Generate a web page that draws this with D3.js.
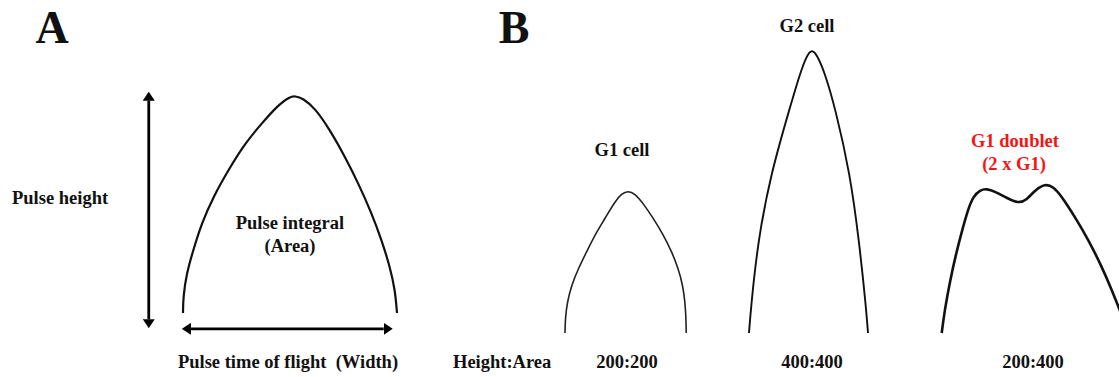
<!DOCTYPE html>
<html>
<head>
<meta charset="utf-8">
<script src="https://cdn.jsdelivr.net/npm/d3@7"></script>
<style>
  body { margin: 0; background: #fff; }
  svg text { font-family: "Liberation Serif", "Times New Roman", serif; font-weight: bold; fill: #111; white-space: pre; }
</style>
</head>
<body>
<div id="chart"></div>
<script>
// Panel A: generic pulse (time units 0-100, height 0-100)
var pulseATime   = [0, 0.1, 1.7, 4.8, 8.7, 14.2, 21.2, 29, 36.8, 44.5, 50, 52.3, 56, 61.7, 68.7, 75.7, 81.9, 88.2, 92.8, 96.7, 99.1, 100];
var pulseAHeight = [0, 7.5, 18.3, 29, 41.3, 53.6, 65.9, 78.2, 87.4, 95.9, 99.7, 100, 99, 94.4, 84.3, 72, 59.8, 45.9, 33.6, 21.3, 10.6, 0];

// Panel B: three pulses on a shared time axis, height in signal units
var g1Time   = [25, 25.3, 27.3, 31.7, 38.3, 46.7, 55, 65, 75, 81.7, 88, 95, 103.3, 113.3, 123.3, 131.7, 138.3, 142.7, 145, 146, 146.2];
var g1Height = [0, 21, 44, 68, 91, 115, 139, 162, 186, 197, 201, 197, 183, 162, 139, 115, 91, 68, 44, 21, 0];

var g2Time   = [209, 211, 218, 231, 250, 260, 267, 272, 277, 285, 295, 310, 319, 326, 328];
var g2Height = [0, 37, 131, 226, 319, 367, 393, 401, 393, 367, 319, 226, 131, 37, 0];

var dbTime   = [401.7, 405, 410, 415.7, 421.7, 428.3, 433.3, 440, 446.7, 455, 466.7, 478.3, 486.7, 495, 505, 513.3, 521.7, 535, 548.3, 561.7, 571.7, 579, 589];
var dbHeight = [0, 35, 73, 110, 143, 176, 193, 202, 204, 200, 191, 183, 188, 202, 211, 207, 193, 164, 132, 94, 61, 35, 0];

var pulseNames  = ["G1 cell", "G2 cell", "G1 doublet"];
var ratioLabels = ["200:200", "400:400", "200:400"];

var svgWidth = 1119;
var svgHeight = 377;

var svg = d3.select("#chart")
  .append("svg")
  .attr("width", svgWidth)
  .attr("height", svgHeight);

// arrow heads
var defs = svg.append("defs");
defs.append("marker")
  .attr("id", "head")
  .attr("viewBox", "0 0 10 10")
  .attr("refX", 0)
  .attr("refY", 5)
  .attr("markerUnits", "userSpaceOnUse")
  .attr("markerWidth", 9)
  .attr("markerHeight", 12)
  .attr("preserveAspectRatio", "none")
  .attr("orient", "auto-start-reverse")
  .append("path")
  .attr("d", "M0,0 L10,5 L0,10 z")
  .attr("fill", "#000");

// scales
var xA = d3.scaleLinear().domain([0, 100]).range([183, 397]);
var yA = d3.scaleLinear().domain([0, 100]).range([313, 96]);

var xB = d3.scaleLinear().domain([0, 580]).range([540, 1120]);
var yB = d3.scaleLinear().domain([0, 400]).range([333, 50]);

function zip(t, h) {
  return t.map((d, i) => ({ t: d, h: h[i] }));
}

var lineA = d3.line()
  .x(d => xA(d.t))
  .y(d => yA(d.h))
  .curve(d3.curveBasis);

var lineB = d3.line()
  .x(d => xB(d.t))
  .y(d => yB(d.h))
  .curve(d3.curveBasis);

// Panel A
svg.append("path")
  .datum(zip(pulseATime, pulseAHeight))
  .attr("d", lineA)
  .attr("fill", "none")
  .attr("stroke", "#111")
  .attr("stroke-width", 2.2);

// height arrow
svg.append("line")
  .attr("x1", xA(-16)).attr("x2", xA(-16))
  .attr("y1", yA(102) + 9).attr("y2", yA(-7) - 9)
  .attr("stroke", "#000")
  .attr("stroke-width", 2.8)
  .attr("marker-start", "url(#head)")
  .attr("marker-end", "url(#head)");

// width arrow
svg.append("line")
  .attr("x1", xA(-0.5) + 9).attr("x2", xA(98) - 9)
  .attr("y1", yA(-7.3)).attr("y2", yA(-7.3))
  .attr("stroke", "#000")
  .attr("stroke-width", 2.8)
  .attr("marker-start", "url(#head)")
  .attr("marker-end", "url(#head)");

// Panel B pulses
var pulses = [
  { pts: zip(g1Time, g1Height), w: 1.6, c: "#222" },
  { pts: zip(g2Time, g2Height), w: 1.9, c: "#111" },
  { pts: zip(dbTime, dbHeight), w: 2.6, c: "#111" }
];

svg.append("g")
  .selectAll("path")
  .data(pulses)
  .enter()
  .append("path")
  .attr("d", d => lineB(d.pts))
  .attr("fill", "none")
  .attr("stroke", d => d.c)
  .attr("stroke-width", d => d.w);

// panel letters
svg.append("text").attr("x", 52).attr("y", 43)
  .attr("text-anchor", "middle").attr("font-size", "46px").text("A");
svg.append("text").attr("x", 514).attr("y", 43)
  .attr("text-anchor", "middle").attr("font-size", "46px").text("B");

// Panel A labels
svg.append("text").attr("x", 12).attr("y", 204)
  .attr("font-size", "18.5px").text("Pulse height");
svg.append("text").attr("x", 290).attr("y", 229)
  .attr("text-anchor", "middle").attr("font-size", "18.5px").text("Pulse integral");
svg.append("text").attr("x", 290).attr("y", 252)
  .attr("text-anchor", "middle").attr("font-size", "18.5px").text("(Area)");
svg.append("text").attr("x", 288).attr("y", 368)
  .attr("text-anchor", "middle").attr("font-size", "18.5px").text("Pulse time of flight  (Width)");

// Panel B labels
svg.append("text").attr("x", 453).attr("y", 368)
  .attr("font-size", "18.5px").text("Height:Area");

var ratioX = [627, 812, 1033];
svg.append("g")
  .selectAll("text")
  .data(ratioLabels)
  .enter()
  .append("text")
  .attr("x", (d, i) => ratioX[i])
  .attr("y", 368)
  .attr("text-anchor", "middle")
  .attr("font-size", "18.5px")
  .text(d => d);

svg.append("text").attr("x", 622).attr("y", 156)
  .attr("text-anchor", "middle").attr("font-size", "18.5px").text(pulseNames[0]);
svg.append("text").attr("x", 807).attr("y", 32)
  .attr("text-anchor", "middle").attr("font-size", "18.5px").text(pulseNames[1]);
svg.append("text").attr("x", 1015).attr("y", 147)
  .attr("text-anchor", "middle").attr("font-size", "18.5px")
  .style("fill", "#f41414").text(pulseNames[2]);
svg.append("text").attr("x", 1014).attr("y", 170)
  .attr("text-anchor", "middle").attr("font-size", "18.5px")
  .style("fill", "#f41414").text("(2 x G1)");
</script>
</body>
</html>
